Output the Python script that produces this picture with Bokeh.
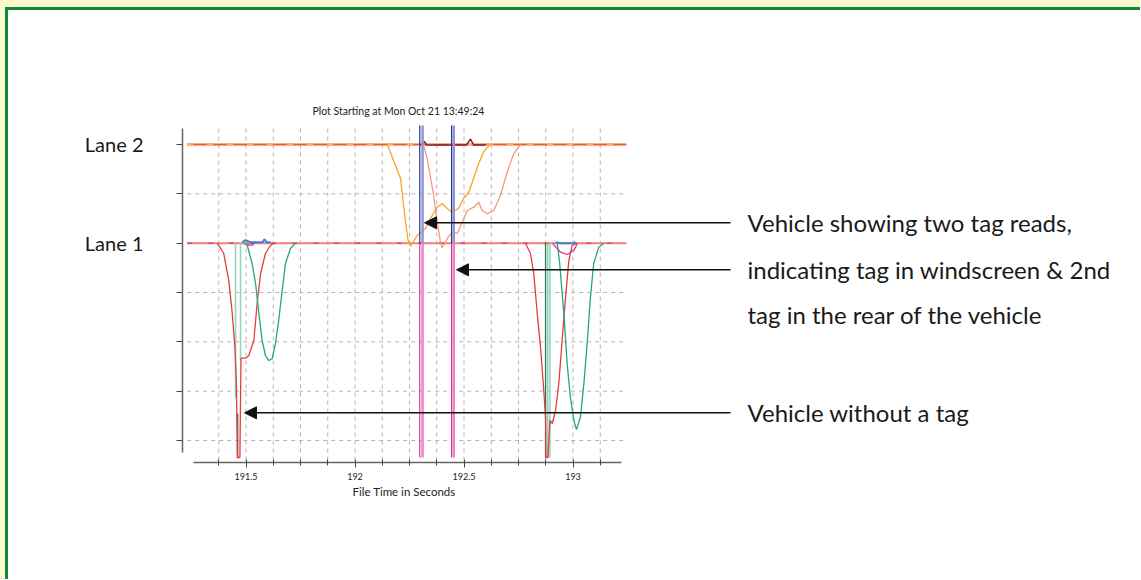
from bokeh.plotting import figure
from bokeh.models import Range1d, FixedTicker, Arrow, NormalHead, Label, Title
from bokeh.embed import file_html
from bokeh.resources import INLINE

# ---------------- data ----------------
title_text = "Plot Starting at Mon Oct 21 13:49:24"
x_label = "File Time in Seconds"
x_ticks_major = [191.5, 192.0, 192.5, 193.0]
x_ticks_minor = [191.375, 191.625, 191.75, 191.875, 192.125, 192.25, 192.375,
                 192.625, 192.75, 192.875, 193.125]
y_ticks = [0, 1, 2, 3, 4, 5, 6]
y_tick_labels = {0: "", 1: "", 2: "", 3: "", 4: "Lane 1", 5: "", 6: "Lane 2"}
lane1_level = 4
lane2_level = 6
trace_x = [191.230, 193.245]
grid_x_extent = [191.230, 193.240]
grid_y_extent = [-0.406, 6.324]

# Lane 2 (upper) loop signals
lane2_yellow_x = [192.148, 192.209, 192.232, 192.245, 192.255, 192.285, 192.323, 192.346,
                  192.377, 192.400, 192.423, 192.446, 192.475, 192.498, 192.521, 192.538,
                  192.561, 192.589, 192.620]
lane2_yellow_y = [6.0, 5.311, 4.419, 4.013, 3.938, 4.155, 4.297, 4.500,
                  4.729, 4.804, 4.703, 4.628, 4.703, 4.905, 5.027, 5.236,
                  5.540, 5.844, 6.0]
lane2_salmon_x = [192.314, 192.331, 192.361, 192.377, 192.392, 192.400, 192.423, 192.446,
                  192.469, 192.492, 192.515, 192.545, 192.568, 192.583, 192.606, 192.637,
                  192.667, 192.698, 192.728, 192.759]
lane2_salmon_y = [6.0, 5.716, 4.966, 4.425, 4.019, 3.906, 4.094, 4.222,
                  4.196, 4.425, 4.662, 4.729, 4.830, 4.662, 4.595, 4.662,
                  4.966, 5.438, 5.811, 6.0]
lane2_dark_x = [192.300, 192.319, 192.328, 192.511, 192.530, 192.544, 192.599]
lane2_dark_y = [5.99, 6.06, 5.99, 5.99, 6.11, 5.99, 5.99]

# Lane 1 (lower) - vehicle without a tag
v1_red_x = [191.368, 191.398, 191.421, 191.437, 191.449, 191.456, 191.460, 191.472,
            191.477, 191.498, 191.513, 191.536, 191.551, 191.567, 191.589, 191.612, 191.628]
v1_red_y = [4.0, 3.790, 3.243, 2.574, 1.891, 1.155, -0.345, -0.345,
            1.668, 1.668, 1.723, 2.027, 2.777, 3.385, 3.790, 3.953, 4.0]
v1_green_x = [191.489, 191.506, 191.528, 191.544, 191.559, 191.574, 191.589, 191.605,
              191.620, 191.635, 191.650, 191.666, 191.681, 191.704, 191.727]
v1_green_y = [4.0, 3.953, 3.588, 3.182, 2.574, 2.027, 1.723, 1.621,
              1.656, 1.966, 2.432, 3.040, 3.588, 3.892, 4.0]
v1_blue_x = [191.483, 191.498, 191.520, 191.576, 191.585, 191.594, 191.612]
v1_blue_y = [4.02, 4.06, 4.02, 4.02, 4.08, 4.02, 4.02]
v1_mag_x = [191.506, 191.511, 191.530, 191.539]
v1_mag_y = [4.0, 3.96, 3.96, 4.0]

# Lane 1 - second vehicle
v2_red_x = [192.782, 192.805, 192.820, 192.836, 192.851, 192.866, 192.874, 192.876,
            192.885, 192.894, 192.905, 192.920, 192.935, 192.950, 192.966, 192.981,
            192.996, 193.019]
v2_red_y = [4.0, 3.790, 3.385, 2.574, 1.891, 1.013, 0.472, -0.345,
            -0.345, 0.405, 0.344, 0.608, 1.155, 2.027, 2.905, 3.648,
            3.953, 4.0]
v2_green_x = [192.928, 192.939, 192.958, 192.973, 192.988, 193.004, 193.016, 193.034,
              193.050, 193.065, 193.080, 193.095, 193.118, 193.141]
v2_green_y = [4.0, 3.588, 2.574, 1.560, 0.877, 0.405, 0.222, 0.472,
              1.155, 1.966, 2.905, 3.588, 3.919, 4.0]
v2_mag_x = [192.905, 192.943, 192.973, 193.004, 193.019]
v2_mag_y = [4.0, 3.817, 3.770, 3.851, 3.98]
v2_blue_x = [192.920, 192.943, 193.004, 193.011]
v2_blue_y = [4.02, 4.0, 4.0, 4.03]

# vertical loop spikes (x, top, bottom)
spike_light_x = [191.452, 191.475, 192.884, 192.894]
spike_light_top = [4.0, 4.0, 4.0, 4.0]
spike_light_bottom = [0.871, 1.621, -0.345, -0.345]
spike_dark_x = [191.462, 192.874]
spike_dark_top = [0.547, 4.0]
spike_dark_bottom = [-0.345, -0.345]

# tag reads (two traces per read: thin + thick)
tag_thin_x = [192.297, 192.443]
tag_thick_x = [192.310, 192.453]
tag_top = 6.45
tag_bottom = -0.345

# annotations
note_texts = ["Vehicle showing two tag reads,",
              "indicating tag in windscreen & 2nd",
              "tag in the rear of the vehicle",
              "Vehicle without a tag"]
note_y = [4.413, 3.46, 2.544, 0.561]
note_x = 193.7225
arrow_rows = [0, 1, 3]
arrow_tip_x = [192.319, 192.4656, 191.4931]

# ---------------- figure ----------------
FONT = "Lato"
GRID = "#b4b4bc"
p = figure(frame_width=958, frame_height=337,
           min_border_left=174, min_border_right=0,
           min_border_top=115, min_border_bottom=117,
           x_range=Range1d(191.2087, 195.6032), y_range=Range1d(-0.446, 6.385),
           output_backend="svg", toolbar_location=None, tools="",
           title=title_text)
p.styles = {"margin-left": "5px", "margin-top": "7px",
            "border-left": "3px solid #0b8a3c", "border-top": "3px solid #0b8a3c",
            "box-shadow": "-5px 0 0 0 #fff8cc, 0 -7px 0 0 #fff8cc, -5px -7px 0 0 #fff8cc"}
p.outline_line_color = None
p.background_fill_color = "white"
p.border_fill_color = "white"

p.title.align = "left"
p.title.offset = 130
p.title.text_font = FONT
p.title.text_font_size = "10.5px"
p.title.text_font_style = "normal"
p.title.text_color = "#222222"
p.title.standoff = 18

# x axis
xa = p.xaxis[0]
xa.ticker = FixedTicker(ticks=x_ticks_major, minor_ticks=x_ticks_minor)
xa.bounds = (191.259, 193.222)
xa.major_label_text_font = FONT
xa.major_label_text_font_size = "9px"
xa.major_label_text_color = "#222222"
xa.major_label_standoff = 5
xa.axis_line_color = "#666666"
xa.axis_line_width = 1.5
xa.major_tick_line_color = "#444444"
xa.minor_tick_line_color = "#444444"
xa.major_tick_in = 3
xa.major_tick_out = 5
xa.minor_tick_in = 3
xa.minor_tick_out = 3
p.add_layout(Title(text=x_label, align="left", offset=170, text_font=FONT,
                   text_font_size="11.5px", text_font_style="normal",
                   text_color="#222222", standoff=0), "below")

# y axis
ya = p.yaxis[0]
ya.ticker = FixedTicker(ticks=y_ticks)
ya.major_label_overrides = y_tick_labels
ya.bounds = (-0.244, 6.324)
ya.major_label_text_font = FONT
ya.major_label_text_font_size = "20px"
ya.major_label_text_color = "#1a1a1a"
ya.major_label_standoff = 33
ya.axis_line_color = "#666666"
ya.axis_line_width = 1.5
ya.major_tick_line_color = "#444444"
ya.major_tick_in = 0
ya.major_tick_out = 6
ya.minor_tick_line_color = None

# grid (drawn from the tick arrays, limited to the plotting area)
p.xgrid.visible = False
p.ygrid.visible = False
gx = sorted(x_ticks_major + x_ticks_minor)
p.segment(gx, [grid_y_extent[0]] * len(gx), gx, [grid_y_extent[1]] * len(gx),
          line_color=GRID, line_width=1, line_dash="4 4")
p.segment([grid_x_extent[0]] * len(y_ticks), y_ticks, [grid_x_extent[1]] * len(y_ticks), y_ticks,
          line_color=GRID, line_width=1, line_dash="4 4")

# baselines
p.line(trace_x, [lane2_level] * 2, line_color="#f25a22", line_width=2.2)
p.line(trace_x, [lane2_level] * 2, line_color="#f9b26a", line_width=1, line_dash="6 14")
p.line(trace_x, [lane1_level] * 2, line_color="#f38080", line_width=2)
p.line(trace_x, [lane1_level] * 2, line_color="#c8364a", line_width=1, line_dash="5 16")

# lane 2 signals
p.line(lane2_yellow_x, lane2_yellow_y, line_color="#f5a623", line_width=1.3)
p.line(lane2_salmon_x, lane2_salmon_y, line_color="#f59a78", line_width=1.3)
p.line(lane2_dark_x, lane2_dark_y, line_color="#8b1a2c", line_width=1.5)

# lane 1 signals
p.segment(spike_light_x, spike_light_top, spike_light_x, spike_light_bottom,
          line_color="#8fd8bd", line_width=1.6)
p.segment(spike_dark_x, spike_dark_top, spike_dark_x, spike_dark_bottom,
          line_color="#2f7a55", line_width=1.3)
p.line(v1_red_x, v1_red_y, line_color="#e8393f", line_width=1.3)
p.line(v1_green_x, v1_green_y, line_color="#24a57c", line_width=1.3)
p.line(v1_blue_x, v1_blue_y, line_color="#3a85d8", line_width=2)
p.line(v1_mag_x, v1_mag_y, line_color="#d9338f", line_width=1.3)
p.line(v2_red_x, v2_red_y, line_color="#e8393f", line_width=1.3)
p.line(v2_green_x, v2_green_y, line_color="#24a57c", line_width=1.3)
p.line(v2_mag_x, v2_mag_y, line_color="#d9338f", line_width=1.3)
p.line(v2_blue_x, v2_blue_y, line_color="#3a85d8", line_width=2)

# tag reads
n = len(tag_thin_x)
p.segment(tag_thick_x, [tag_top] * n, tag_thick_x, [lane1_level] * n,
          line_color="#8e96d8", line_width=2.5)
p.segment(tag_thin_x, [tag_top] * n, tag_thin_x, [lane1_level] * n,
          line_color="#2f3590", line_width=1.2)
p.segment(tag_thick_x, [lane1_level] * n, tag_thick_x, [tag_bottom] * n,
          line_color="#f383c8", line_width=2.5)
p.segment(tag_thin_x, [lane1_level] * n, tag_thin_x, [tag_bottom] * n,
          line_color="#d83597", line_width=1.2)

# annotations
for row, tip in zip(arrow_rows, arrow_tip_x):
    p.add_layout(Arrow(x_start=note_x, y_start=note_y[row], x_end=tip, y_end=note_y[row],
                       line_color="#111111", line_width=1.5,
                       end=NormalHead(size=12, fill_color="#111111", line_color="#111111")))
for txt, yy in zip(note_texts, note_y):
    p.add_layout(Label(x=note_x, y=yy, x_offset=17, text=txt, text_font=FONT,
                       text_font_size="24px", text_color="#1a1a1a",
                       text_baseline="middle", text_align="left"))

open("out.html", "w").write(file_html(p, INLINE))
